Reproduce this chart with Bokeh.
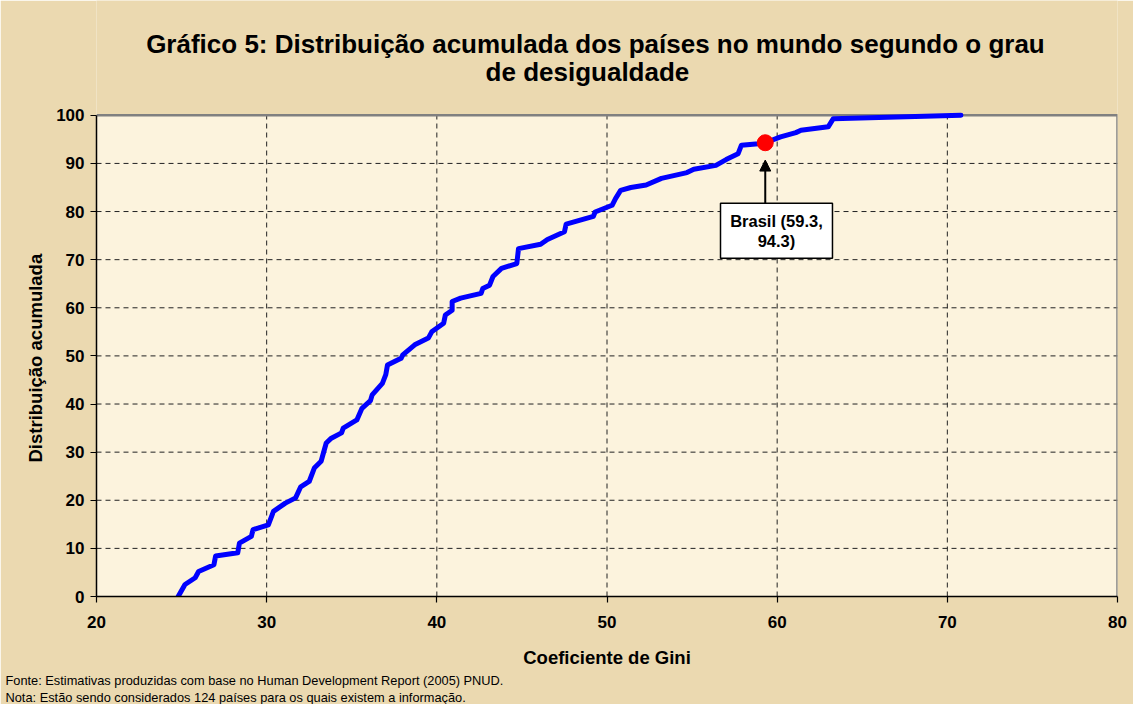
from bokeh.plotting import figure
from bokeh.models import Label, Arrow, NormalHead, ColumnDataSource, FixedTicker, Range1d, Title
from bokeh.embed import file_html
from bokeh.resources import INLINE

# ---- data ----
gini = [24.8, 25.2, 25.8, 26.0, 26.9, 27.0, 28.3, 28.4, 29.1, 29.2, 30.1, 30.4, 31.1, 31.7,
        32.0, 32.5, 32.8, 33.2, 33.5, 33.8, 34.4, 34.5, 35.3, 35.6, 36.1, 36.2, 36.8, 37.0,
        37.1, 37.9, 38.0, 38.7, 39.5, 39.7, 40.4, 40.5, 40.9, 40.9, 41.4, 42.6, 42.7, 43.1,
        43.3, 43.8, 44.7, 44.8, 46.1, 46.5, 47.5, 47.6, 49.2, 49.3, 50.3, 50.5, 50.8, 51.4,
        52.3, 53.2, 54.7, 55.1, 56.4, 57.0, 57.7, 57.9, 58.9, 59.3, 60.2, 61.1, 61.4, 63.0,
        63.3, 70.8]
cum = [0, 2.5, 3.9, 5.2, 6.6, 8.4, 9.1, 11.1, 12.5, 13.9, 14.9, 17.7, 19.4, 20.5,
       22.8, 23.9, 26.7, 28.1, 31.9, 32.9, 34.0, 35.0, 36.7, 39.1, 40.7, 41.9, 44.3, 46.1,
       48.1, 49.5, 50.2, 52.3, 53.7, 55.0, 56.8, 58.5, 59.5, 61.3, 62.0, 63.0, 64.0, 64.7,
       66.5, 68.2, 69.2, 72.3, 73.2, 74.2, 75.8, 77.4, 79.0, 79.9, 81.3, 82.7, 84.4, 85.0,
       85.5, 86.9, 88.1, 88.8, 89.6, 90.8, 92.0, 93.8, 94.1, 94.3, 95.5, 96.4, 96.9, 97.6,
       99.3, 100]
brasil_x = [59.3]
brasil_y = [94.3]
x_ticks = [20, 30, 40, 50, 60, 70, 80]
y_ticks = [0, 10, 20, 30, 40, 50, 60, 70, 80, 90, 100]

title_1 = "Gráfico 5: Distribuição acumulada dos países no mundo segundo o grau"
title_2 = "de desigualdade"
x_label = "Coeficiente de Gini"
y_label = "Distribuição acumulada"
note_1 = "Fonte: Estimativas produzidas com base no Human Development Report (2005) PNUD."
note_2 = "Nota: Estão sendo considerados 124 países para os quais existem a informação."
ann_1 = "Brasil (59.3,"
ann_2 = "94.3)"

FONT = "Liberation Sans"
OUTER = "#ebd9b0"
INNER = "#fcf3dd"

X0, X1 = x_ticks[0], x_ticks[-1]
Y0, Y1 = y_ticks[0], y_ticks[-1]
PLOT_PX = 482.0          # pixel height of the 0..100 area
FRAME_PX = 597.0         # frame from canvas top to the x axis
Y_TOP = Y1 * FRAME_PX / PLOT_PX   # extend range so titles live inside the frame

p = figure(width=1133, height=704, output_backend="svg", toolbar_location=None,
           x_range=Range1d(X0, X1), y_range=Range1d(Y0, Y_TOP),
           min_border_left=96, min_border_right=16, min_border_top=0, min_border_bottom=107)

p.border_fill_color = OUTER
p.background_fill_color = OUTER
p.outline_line_color = None
p.xgrid.visible = False
p.ygrid.visible = False

# plot area
p.quad(left=[X0], right=[X1], bottom=[Y0], top=[Y1], fill_color=INNER, line_color=None)

# dashed grid
gx = x_ticks[1:-1]
gy = y_ticks[1:-1]
p.segment(x0=gx, y0=[Y0] * len(gx), x1=gx, y1=[Y1] * len(gx),
          line_color="#222222", line_width=1, line_dash="5 4")
p.segment(x0=[X0] * len(gy), y0=gy, x1=[X1] * len(gy), y1=gy,
          line_color="#222222", line_width=1, line_dash="5 4")
# gray plot-area border (top and right)
p.line([X0, X1, X1], [Y1, Y1, Y0], line_color="#808080", line_width=2.5)

for ax in (p.xaxis[0], p.yaxis[0]):
    ax.axis_line_color = "black"
    ax.axis_line_width = 1.5
    ax.major_tick_line_color = "black"
    ax.major_tick_line_width = 1.2
    ax.major_tick_out = 6
    ax.major_tick_in = 0
    ax.minor_tick_line_color = None
    ax.major_label_text_font = FONT
    ax.major_label_text_font_style = "bold"
    ax.major_label_text_font_size = "17px"
    ax.major_label_text_color = "black"
    ax.axis_label_text_font = FONT
    ax.axis_label_text_font_style = "bold"
    ax.axis_label_text_font_size = "18.5px"
    ax.axis_label_text_color = "black"

p.xaxis.ticker = FixedTicker(ticks=x_ticks)
p.yaxis.ticker = FixedTicker(ticks=y_ticks)
p.yaxis.bounds = (Y0, Y1)
p.xaxis.axis_label = x_label
p.xaxis.major_label_standoff = 13
p.xaxis.axis_label_standoff = 16
p.yaxis.major_label_standoff = 6

# y-axis title, placed along the 0..100 plot area (not the extended frame)
p.add_layout(Title(text=y_label, align="left", offset=134, standoff=15,
                   text_font=FONT, text_font_style="bold", text_font_size="18.5px",
                   text_color="black"), "left")

src = ColumnDataSource(dict(x=gini, y=cum))
p.line("x", "y", source=src, line_color="#0000ff", line_width=5, line_join="round", line_cap="round")
p.scatter(brasil_x, brasil_y, size=16, fill_color="#ff0000", line_color="#ff0000")

# annotation box + arrow
bx, by = brasil_x[0], brasil_y[0]
box_l, box_r, box_b, box_t = bx - 2.63, bx + 3.95, by - 24.0, by - 12.6
p.quad(left=[box_l], right=[box_r], bottom=[box_b], top=[box_t],
       fill_color="white", line_color="black", line_width=1.5)
p.add_layout(Arrow(end=NormalHead(size=11, fill_color="black", line_color="black"),
                   x_start=bx, y_start=box_t, x_end=bx, y_end=by - 3.6,
                   line_color="black", line_width=2))
cx = (box_l + box_r) / 2
for txt, yy in ((ann_1, box_t - 3.6), (ann_2, box_t - 7.8)):
    p.add_layout(Label(x=cx, y=yy, text=txt, text_align="center", text_baseline="middle",
                       text_font=FONT, text_font_style="bold", text_font_size="16.5px",
                       text_color="black"))

# two-line title (inside the extended frame, above the plot area)
p.add_layout(Label(x=49.32, y=114.73, text=title_1, text_align="center", text_baseline="middle",
                   text_font=FONT, text_font_style="bold", text_font_size="26px",
                   text_color="black"))
p.add_layout(Label(x=48.85, y=108.92, text=title_2, text_align="center", text_baseline="middle",
                   text_font=FONT, text_font_style="bold", text_font_size="26px",
                   text_color="black"))

# footnotes (below the axis)
p.add_layout(Title(text=note_1, align="left", offset=-91, standoff=0,
                   text_font=FONT, text_font_style="normal", text_font_size="12.8px",
                   text_color="black"), "below")
p.add_layout(Title(text=note_2, align="left", offset=-91, standoff=0,
                   text_font=FONT, text_font_style="normal", text_font_size="12.8px",
                   text_color="black"), "below")

html = file_html(p, INLINE)
html = html.replace("<head>", "<head><style>html,body{margin:0;padding:0;}</style>", 1)
open("out.html", "w").write(html)
